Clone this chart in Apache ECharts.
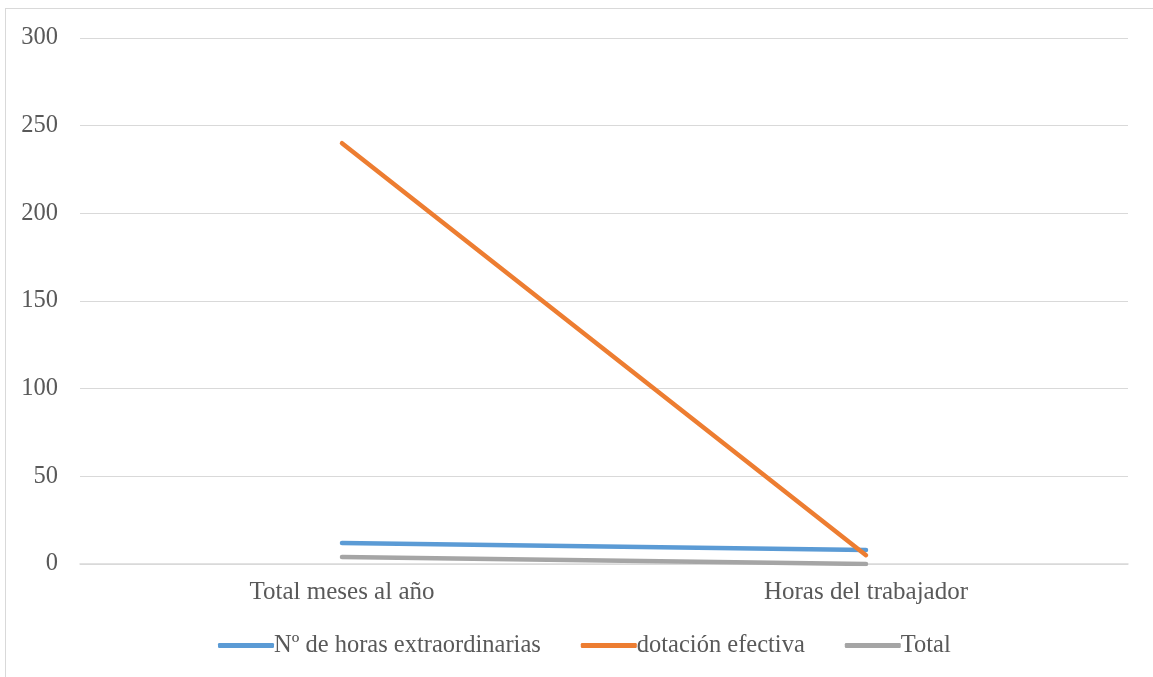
<!DOCTYPE html>
<html>
<head>
<meta charset="utf-8">
<script src="https://cdn.jsdelivr.net/npm/echarts@6/dist/echarts.min.js"></script>
<style>
  html, body { margin: 0; padding: 0; background: #fff; }
  #frame { position: absolute; left: 5px; top: 8px; width: 1160px; height: 700px; border: 1.5px solid #d9d9d9; box-sizing: border-box; }
  #chart { width: 1153px; height: 677px; position: absolute; left: 0; top: 0; }
</style>
</head>
<body>
<div id="frame"></div>
<div id="chart"></div>
<script>
// Category labels along the x axis
const categories = ['Total meses al año', 'Horas del trabajador'];
// Series values
const horasExtra = [12, 8];
const dotacion = [240, 5];
const total = [4, 0];
// Series names shown in the legend
const seriesNames = ['Nº de horas extraordinarias', 'dotación efectiva', 'Total'];
const colors = ['#5b9bd5', '#ed7d31', '#a5a5a5'];

const font = "'Liberation Serif', 'Times New Roman', serif";
const chart = echarts.init(document.getElementById('chart'));

function lineSeries(name, data, color) {
  return {
    name: name,
    type: 'line',
    data: data,
    symbol: 'none',
    lineStyle: { width: 4.5, color: color, cap: 'round' },
    itemStyle: { color: color }
  };
}

chart.setOption({
  animation: false,
  grid: { left: 80, right: 25, top: 38, bottom: 113 },
  legend: {
    bottom: 14,
    left: 213,
    itemWidth: 56,
    itemHeight: 5,
    itemGap: 40,
    icon: 'roundRect',
    textStyle: { fontFamily: font, fontSize: 24.5, color: '#595959', padding: [0, 0, 0, -5] },
    data: seriesNames
  },
  xAxis: {
    type: 'category',
    data: categories,
    boundaryGap: true,
    axisLine: { show: true, lineStyle: { color: '#d9d9d9', width: 1.5 } },
    axisTick: { show: false },
    axisLabel: { fontFamily: font, fontSize: 25, color: '#595959', margin: 16 }
  },
  yAxis: {
    type: 'value',
    min: 0,
    max: 300,
    interval: 50,
    axisLine: { show: false },
    axisTick: { show: false },
    splitLine: { lineStyle: { color: '#d9d9d9', width: 1 } },
    axisLabel: { fontFamily: font, fontSize: 24.5, color: '#595959', margin: 22 }
  },
  series: [
    lineSeries(seriesNames[0], horasExtra, colors[0]),
    lineSeries(seriesNames[1], dotacion, colors[1]),
    lineSeries(seriesNames[2], total, colors[2])
  ]
});
</script>
</body>
</html>
